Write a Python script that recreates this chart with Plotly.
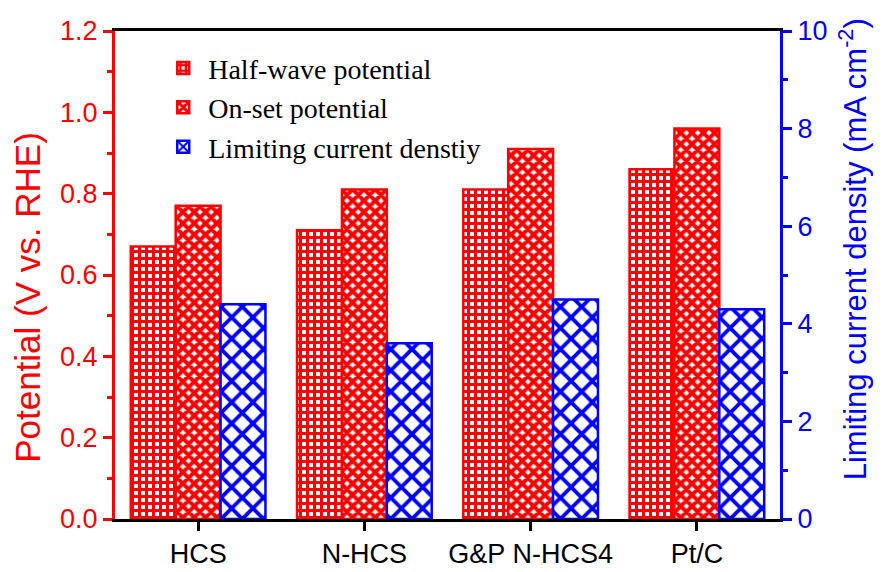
import plotly.graph_objects as go

# Catalyst samples and their ORR metrics
samples = ["HCS", "N-HCS", "G&P N-HCS4", "Pt/C"]
half_wave = [0.67, 0.71, 0.81, 0.86]       # V vs. RHE
onset = [0.77, 0.81, 0.91, 0.96]           # V vs. RHE
limiting_current = [4.4, 3.6, 4.5, 4.3]    # mA cm^-2

RED = "#ff0000"
BLUE = "#0000ff"
SANS = "Liberation Sans, Arial, sans-serif"
SERIF = "Liberation Serif, Times New Roman, serif"

fig = go.Figure()

fig.add_trace(go.Bar(
    x=samples, y=half_wave, name="Half-wave potential",
    offsetgroup="1", yaxis="y",
    marker=dict(color="white",
                line=dict(color=RED, width=2.5),
                pattern=dict(shape="+", fgcolor=RED, bgcolor="white",
                             size=7, solidity=0.68, fillmode="replace")),
))
fig.add_trace(go.Bar(
    x=samples, y=onset, name="On-set potential",
    offsetgroup="2", yaxis="y",
    marker=dict(color="white",
                line=dict(color=RED, width=2.5),
                pattern=dict(shape="x", fgcolor=RED, bgcolor="white",
                             size=8, solidity=0.75, fillmode="replace")),
))
fig.add_trace(go.Bar(
    x=samples, y=limiting_current, name="Limiting current denstiy",
    offsetgroup="3", yaxis="y2",
    marker=dict(color="white",
                line=dict(color=BLUE, width=2.5),
                pattern=dict(shape="x", fgcolor=BLUE, bgcolor="white",
                             size=15, solidity=0.45, fillmode="replace")),
))

# Axis titles as paper-anchored annotations
fig.add_annotation(
    text="Potential (V vs. RHE)", textangle=-90,
    xref="paper", yref="paper", x=-0.131, y=0.455,
    xanchor="center", yanchor="middle", showarrow=False,
    font=dict(family=SANS, size=35, color=RED),
)
fig.add_annotation(
    text="Limiting current density (mA cm<sup>-2</sup>)", textangle=-90,
    xref="paper", yref="paper", x=1.11, y=0.553,
    xanchor="center", yanchor="middle", showarrow=False,
    font=dict(family=SANS, size=31, color=BLUE),
)

fig.update_layout(
    width=882, height=572,
    margin=dict(l=115, r=102, t=31, b=53),
    paper_bgcolor="white", plot_bgcolor="white",
    barmode="group", bargap=0.19, bargroupgap=0,
    showlegend=True,
    legend=dict(x=0.065, y=0.975, xanchor="left", yanchor="top",
                font=dict(family=SERIF, size=28, color="black"),
                bgcolor="rgba(0,0,0,0)", tracegroupgap=0,
                itemwidth=40),
    xaxis=dict(
        automargin=False,
        showline=True, linecolor="black", linewidth=3, mirror=True,
        ticks="outside", ticklen=9, tickwidth=2.5, tickcolor="black",
        tickfont=dict(family=SANS, size=27, color="black"),
        showgrid=False,
    ),
    yaxis=dict(
        automargin=False,
        range=[0, 1.2], dtick=0.2, tickformat=".1f",
        showline=True, linecolor=RED, linewidth=3,
        ticks="outside", ticklen=9, tickwidth=2.5, tickcolor=RED,
        minor=dict(dtick=0.1, ticks="outside", ticklen=5, tickwidth=2.5,
                   tickcolor=RED, showgrid=False),
        tickfont=dict(family=SANS, size=27, color=RED),
        showgrid=False, zeroline=False,
    ),
    yaxis2=dict(
        automargin=False,
        overlaying="y", side="right",
        range=[0, 10], dtick=2,
        showline=True, linecolor=BLUE, linewidth=3,
        ticks="outside", ticklen=9, tickwidth=2.5, tickcolor=BLUE,
        minor=dict(dtick=1, ticks="outside", ticklen=5, tickwidth=2.5,
                   tickcolor=BLUE, showgrid=False),
        tickfont=dict(family=SANS, size=27, color=BLUE),
        showgrid=False, zeroline=False,
    ),
)

fig.write_html("out.html")
